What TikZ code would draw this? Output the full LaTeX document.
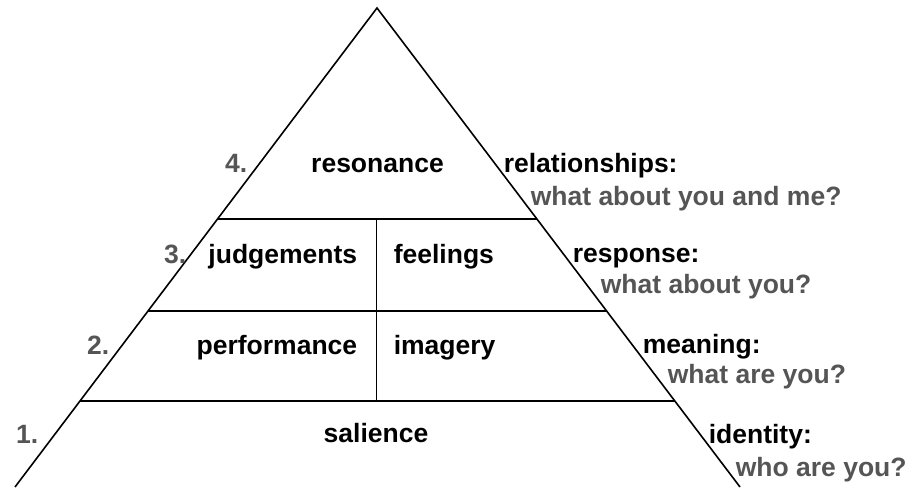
\documentclass[tikz,border=0pt]{standalone}
\usepackage{fontspec}
\setmainfont{Liberation Sans}
\usetikzlibrary{calc}
\definecolor{askgray}{HTML}{555555}

\begin{document}
\begin{tikzpicture}[x=1pt,y=-1pt,line width=1.6pt]
        \tikzstyle{every node}=[font=\fontsize{26.5}{32}\selectfont\bfseries, inner sep=0pt]
        \tikzstyle{level}=[anchor=base]
        \tikzstyle{num}=[anchor=base east, text=askgray]
        \tikzstyle{answer}=[anchor=base west]
        \tikzstyle{question}=[anchor=base west, text=askgray]

        \useasboundingbox (0,0) rectangle (907,487);

        % pyramid
        \coordinate (apex) at (377,8);
        \coordinate (bl) at (15,487);
        \coordinate (br) at (740,487);
        \draw (bl) -- (apex) -- (br);

        \coordinate (l4) at ($(apex)!0.4405!(bl)$);
        \coordinate (r4) at ($(apex)!0.4405!(br)$);
        \coordinate (l3) at ($(apex)!0.6326!(bl)$);
        \coordinate (r3) at ($(apex)!0.6326!(br)$);
        \coordinate (l2) at ($(apex)!0.8205!(bl)$);
        \coordinate (r2) at ($(apex)!0.8205!(br)$);
        \draw (l4) -- (r4);
        \draw (l3) -- (r3);
        \draw (l2) -- (r2);

        \coordinate (mtop) at (376.5,219);
        \coordinate (mbot) at (376.5,401);
        \draw (mtop) -- (mbot);

        % levels
        \node[level] (resonance) at (377.5,172) {resonance};
        \node[level, anchor=base east] (judgements) at (358,263) {judgements};
        \node[answer] (feelings) at (393,263) {feelings};
        \node[level, anchor=base east] (performance) at (358,354) {performance};
        \node[answer] (imagery) at (393,354) {imagery};
        \node[level] (salience) at (376,442) {salience};

        % numbers
        \node[num] (n4) at (248,172) {4.};
        \node[num] (n3) at (187,263) {3.};
        \node[num] (n2) at (110,354) {2.};
        \node[num] (n1) at (39,443) {1.};

        % questions
        \node[answer] (relationships) at (503,172) {relationships:};
        \node[question] (youme) at (530,205) {what about you and me?};
        \node[answer] (response) at (572,262) {response:};
        \node[question] (aboutyou) at (600,293) {what about you?};
        \node[answer] (meaning) at (642,353) {meaning:};
        \node[question] (whatare) at (667,383) {what are you?};
        \node[answer] (identity) at (708,443) {identity:};
        \node[question] (whoare) at (735,476) {who are you?};
    \end{tikzpicture}
\end{document}
